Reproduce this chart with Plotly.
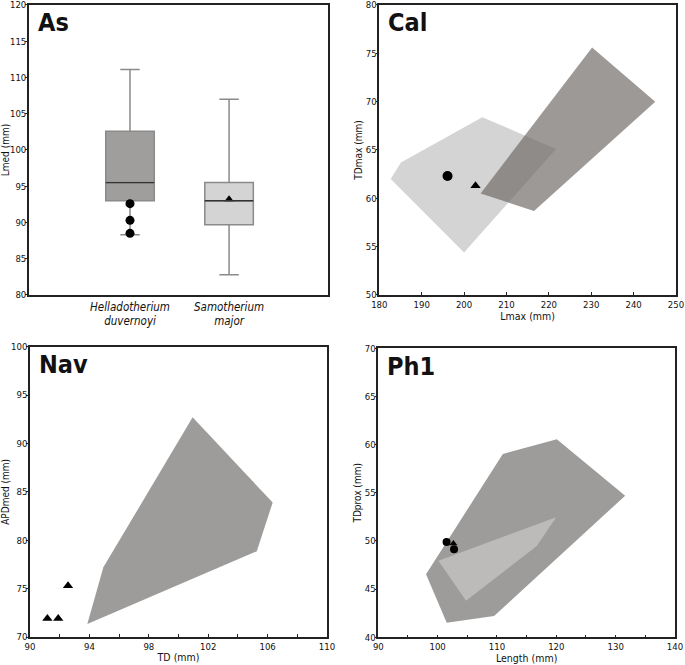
import plotly.graph_objects as go

# ---------------- data ----------------
# Panel As (box plots)
box_species = ["Helladotherium<br>duvernoyi", "Samotherium<br>major"]
box_q1 = [93.0, 89.7]
box_median = [95.5, 93.0]
box_q3 = [102.6, 95.5]
box_low = [88.3, 82.8]
box_high = [111.1, 107.0]
box_fill = ["#a09e9c", "#d4d4d4"]
as_circles_x = [0, 0, 0]
as_circles_y = [92.6, 90.3, 88.5]
as_tri_x = [1]
as_tri_y = [93.2]

# Panel Cal
cal_light_x = [182.7, 185.1, 204.3, 221.7, 200.0]
cal_light_y = [62.0, 63.7, 68.4, 65.1, 54.4]
cal_dark_x = [203.9, 230.2, 245.1, 216.5]
cal_dark_y = [60.5, 75.6, 70.0, 58.7]
cal_circ_x = [196.1]
cal_circ_y = [62.3]
cal_tri_x = [202.7]
cal_tri_y = [61.3]

# Panel Nav
nav_dark_x = [93.86, 94.94, 100.95, 106.34, 105.27]
nav_dark_y = [71.35, 77.2, 92.7, 83.9, 78.86]
nav_tri_x = [91.17, 91.9, 92.56]
nav_tri_y = [71.9, 71.9, 75.3]

# Panel Ph1
ph_dark_x = [98.04, 101.53, 109.51, 131.6, 120.08, 110.98]
ph_dark_y = [46.54, 41.52, 42.21, 54.7, 60.56, 59.03]
ph_light_x = [100.12, 104.79, 116.71, 119.97]
ph_light_y = [47.95, 43.8, 49.48, 52.46]
ph_circ_x = [101.5, 102.76]
ph_circ_y = [49.9, 49.14]
ph_tri_x = [102.65]
ph_tri_y = [49.75]

# ---------------- styling ----------------
FONT = "DejaVu Sans Condensed, Liberation Sans Narrow, Arial Narrow, sans-serif"
BOXW = 0.49
DARK_FILL = "rgba(110,105,102,0.68)"
DARK_SOLID = "#9e9c9a"
LIGHT_FILL = "#d4d4d4"
PH_LIGHT = "#bcbbba"

fig = go.Figure()

# ---- As boxes
for i in range(len(box_species)):
    fig.add_trace(go.Box(
        x=[i], q1=[box_q1[i]], median=[box_median[i]], q3=[box_q3[i]],
        lowerfence=[box_low[i]], upperfence=[box_high[i]],
        fillcolor=box_fill[i], line=dict(color="#8a8a8a", width=1.5),
        width=BOXW, whiskerwidth=0.4, boxpoints=False, showlegend=False,
        xaxis="x", yaxis="y", hoverinfo="skip"))
    fig.add_shape(type="line", xref="x", yref="y",
                  x0=i - BOXW / 2, x1=i + BOXW / 2,
                  y0=box_median[i], y1=box_median[i],
                  line=dict(color="#333333", width=1.3))
fig.add_trace(go.Scatter(x=as_circles_x, y=as_circles_y, mode="markers",
                         marker=dict(symbol="circle", size=9, color="black"),
                         xaxis="x", yaxis="y", showlegend=False))
fig.add_trace(go.Scatter(x=as_tri_x, y=as_tri_y, mode="markers",
                         marker=dict(symbol="triangle-up", size=8, color="black"),
                         xaxis="x", yaxis="y", showlegend=False))

# ---- Cal
fig.add_trace(go.Scatter(x=cal_light_x + cal_light_x[:1], y=cal_light_y + cal_light_y[:1],
                         fill="toself", fillcolor=LIGHT_FILL, mode="lines",
                         line=dict(width=0), xaxis="x2", yaxis="y2", showlegend=False))
fig.add_trace(go.Scatter(x=cal_dark_x + cal_dark_x[:1], y=cal_dark_y + cal_dark_y[:1],
                         fill="toself", fillcolor=DARK_FILL, mode="lines",
                         line=dict(width=0), xaxis="x2", yaxis="y2", showlegend=False))
fig.add_trace(go.Scatter(x=cal_circ_x, y=cal_circ_y, mode="markers",
                         marker=dict(symbol="circle", size=10, color="black"),
                         xaxis="x2", yaxis="y2", showlegend=False))
fig.add_trace(go.Scatter(x=cal_tri_x, y=cal_tri_y, mode="markers",
                         marker=dict(symbol="triangle-up", size=9, color="black"),
                         xaxis="x2", yaxis="y2", showlegend=False))

# ---- Nav
fig.add_trace(go.Scatter(x=nav_dark_x + nav_dark_x[:1], y=nav_dark_y + nav_dark_y[:1],
                         fill="toself", fillcolor=DARK_SOLID, mode="lines",
                         line=dict(width=0), xaxis="x3", yaxis="y3", showlegend=False))
fig.add_trace(go.Scatter(x=nav_tri_x, y=nav_tri_y, mode="markers",
                         marker=dict(symbol="triangle-up", size=9, color="black"),
                         xaxis="x3", yaxis="y3", showlegend=False))

# ---- Ph1
fig.add_trace(go.Scatter(x=ph_dark_x + ph_dark_x[:1], y=ph_dark_y + ph_dark_y[:1],
                         fill="toself", fillcolor=DARK_SOLID, mode="lines",
                         line=dict(width=0), xaxis="x4", yaxis="y4", showlegend=False))
fig.add_trace(go.Scatter(x=ph_light_x + ph_light_x[:1], y=ph_light_y + ph_light_y[:1],
                         fill="toself", fillcolor=PH_LIGHT, mode="lines",
                         line=dict(width=0), xaxis="x4", yaxis="y4", showlegend=False))
fig.add_trace(go.Scatter(x=ph_circ_x, y=ph_circ_y, mode="markers",
                         marker=dict(symbol="circle", size=8, color="black"),
                         xaxis="x4", yaxis="y4", showlegend=False))
fig.add_trace(go.Scatter(x=ph_tri_x, y=ph_tri_y, mode="markers",
                         marker=dict(symbol="triangle-up", size=7, color="black"),
                         xaxis="x4", yaxis="y4", showlegend=False))

tickfont = dict(family=FONT, size=9.5, color="#111")
titlefont = dict(family=FONT, size=10.5, color="#111")
ytitlefont = dict(family=FONT, size=10, color="#111")
frame = dict(showline=True, linecolor="#222", linewidth=1.5, mirror=True,
             showgrid=False, zeroline=False, tickfont=tickfont, tickcolor="#222",
             automargin=True, ticklabeloverflow="allow")


def xax(domain, rng, dtick, title, anchor, minor=None, standoff=2):
    d = dict(frame, domain=domain, range=rng, dtick=dtick, tick0=rng[0],
             ticks="inside", ticklen=3, anchor=anchor,
             title=dict(text=title, font=titlefont, standoff=standoff))
    if minor:
        d["minor"] = dict(dtick=minor, ticks="inside", ticklen=3, tickcolor="#222")
    return d


def yax(domain, rng, dtick, title, anchor, standoff=1):
    return dict(frame, domain=domain, range=rng, dtick=dtick, tick0=rng[0],
                ticks="outside", ticklen=2, anchor=anchor, ticklabelstandoff=-3,
                title=dict(text=title, font=ytitlefont, standoff=standoff))


fig.update_layout(
    width=685, height=665,
    margin=dict(l=0, r=0, t=0, b=0, autoexpand=False),
    paper_bgcolor="white", plot_bgcolor="white",
    showlegend=False,
    xaxis=dict(frame, domain=[0.0423, 0.479], range=[-1.02, 2.0], anchor="y",
               tickvals=[0, 1], ticktext=[f"<i>{s}</i>" for s in box_species],
               ticks="", tickfont=dict(family=FONT, size=11.5, color="#111")),
    yaxis=yax([0.5564, 0.9925], [80, 120], 5, "Lmed (mm)", "x"),
    xaxis2=xax([0.5537, 0.9869], [180, 250], 10, "Lmax (mm)", "y2", standoff=4),
    yaxis2=yax([0.5564, 0.9925], [50, 80], 5, "TDmax (mm)", "x2"),
    xaxis3=xax([0.0438, 0.4774], [90, 110], 4, "TD (mm)", "y3", minor=2),
    yaxis3=yax([0.0421, 0.4786], [70, 100], 5, "APDmed (mm)", "x3"),
    xaxis4=xax([0.5523, 0.9854], [90, 140], 10, "Length (mm)", "y4", minor=5),
    yaxis4=yax([0.0416, 0.4762], [40, 70], 5, "TDprox (mm)", "x4"),
)

labels = [("As", "x", "y"), ("Cal", "x2", "y2"), ("Nav", "x3", "y3"), ("Ph1", "x4", "y4")]
for text, xr, yr in labels:
    fig.add_annotation(text=f"<b>{text}</b>", xref=f"{xr} domain", yref=f"{yr} domain",
                       x=0.022, y=0.995, xanchor="left", yanchor="top", showarrow=False,
                       font=dict(family=FONT, size=25, color="#111"))

fig.write_html("out.html", config={"displayModeBar": False},
               post_script="document.body.style.margin='0';")
